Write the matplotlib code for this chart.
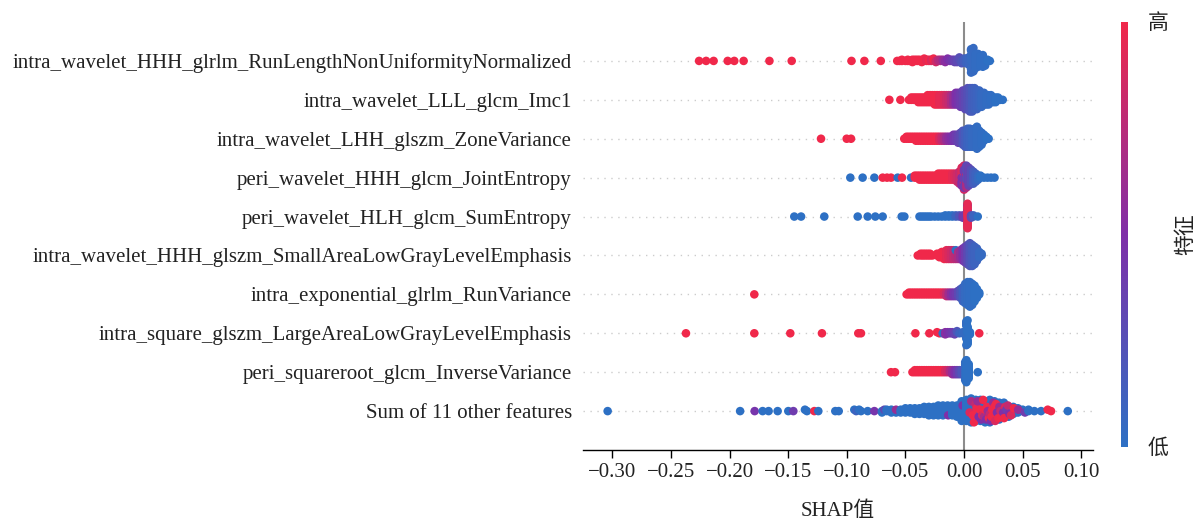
import numpy as np
import matplotlib
matplotlib.use('Agg')
import matplotlib.pyplot as plt
from matplotlib.colors import LinearSegmentedColormap, Normalize
from matplotlib.cm import ScalarMappable

plt.rcParams['font.family'] = ['Liberation Serif', 'Noto Sans CJK SC']
plt.rcParams['axes.unicode_minus'] = True

# feature names, top to bottom
feature_names = [
    'intra_wavelet_HHH_glrlm_RunLengthNonUniformityNormalized',
    'intra_wavelet_LLL_glcm_Imc1',
    'intra_wavelet_LHH_glszm_ZoneVariance',
    'peri_wavelet_HHH_glcm_JointEntropy',
    'peri_wavelet_HLH_glcm_SumEntropy',
    'intra_wavelet_HHH_glszm_SmallAreaLowGrayLevelEmphasis',
    'intra_exponential_glrlm_RunVariance',
    'intra_square_glszm_LargeAreaLowGrayLevelEmphasis',
    'peri_squareroot_glcm_InverseVariance',
    'Sum of 11 other features',
]

# each row: (SHAP value, feature value 0=low..1=high, number of samples)
row_rlnun = [
    (-0.226, 1, 1), (-0.220, 1, 1), (-0.2136, 1, 1), (-0.2016, 1, 1), (-0.196, 1, 1),
    (-0.188, 1, 1), (-0.166, 1, 1), (-0.147, 1, 1), (-0.096, 1, 1), (-0.085, 1, 1),
    (-0.071, 1, 1), (-0.057, 1, 1), (-0.055, 1, 1), (-0.053, 1, 2), (-0.050, 1, 1),
    (-0.048, 1, 2), (-0.046, 1, 1), (-0.044, 1, 2), (-0.042, 1, 2), (-0.040, 1, 2),
    (-0.038, 1, 2), (-0.036, 1, 2), (-0.034, 1, 2), (-0.032, 0.95, 2), (-0.030, 1, 2),
    (-0.028, 0.9, 2), (-0.026, 1, 2), (-0.024, 0.85, 2), (-0.022, 0.75, 2), (-0.020, 0.7, 2),
    (-0.018, 0.6, 2), (-0.016, 0.55, 2), (-0.014, 0.5, 2), (-0.012, 0.45, 2), (-0.010, 0.4, 2),
    (-0.008, 0.35, 3), (-0.006, 0.3, 3), (-0.004, 0.25, 3), (-0.002, 0.2, 3), (0.000, 0.15, 4),
    (0.002, 0.1, 5), (0.004, 0.08, 7), (0.006, 0.05, 10), (0.008, 0.05, 12), (0.010, 0.03, 13),
    (0.012, 0.03, 12), (0.014, 0.02, 9), (0.016, 0.02, 7), (0.018, 0.02, 4), (0.020, 0.0, 2),
    (0.022, 0.0, 1),
]
row_imc1 = [
    (-0.0637, 1, 1), (-0.0543, 1, 1), (-0.047, 1, 1), (-0.045, 1, 2), (-0.043, 1, 2),
    (-0.041, 1, 2), (-0.039, 1, 3), (-0.037, 1, 3), (-0.035, 1, 3), (-0.033, 1, 3),
    (-0.031, 1, 4), (-0.029, 1, 4), (-0.027, 1, 4), (-0.025, 1, 5), (-0.023, 1, 5),
    (-0.021, 0.95, 5), (-0.019, 0.95, 5), (-0.017, 0.9, 5), (-0.015, 0.85, 5), (-0.013, 0.8, 5),
    (-0.011, 0.7, 5), (-0.009, 0.6, 5), (-0.007, 0.5, 6), (-0.005, 0.45, 6), (-0.003, 0.4, 7),
    (-0.001, 0.35, 8), (0.001, 0.3, 9), (0.003, 0.25, 10), (0.005, 0.2, 11), (0.007, 0.15, 11),
    (0.009, 0.12, 10), (0.011, 0.1, 9), (0.013, 0.08, 8), (0.015, 0.05, 7), (0.017, 0.05, 6),
    (0.019, 0.03, 5), (0.021, 0.03, 5), (0.023, 0.02, 4), (0.025, 0.02, 3), (0.027, 0.0, 3),
    (0.029, 0.0, 2), (0.031, 0.0, 1), (0.033, 0.0, 1),
]
row_zonevar = [
    (-0.122, 1, 1), (-0.1001, 1, 1), (-0.0964, 1, 1), (-0.051, 1, 1), (-0.049, 1, 2),
    (-0.047, 1, 2), (-0.045, 1, 2), (-0.043, 1, 2), (-0.041, 1, 3), (-0.039, 1, 3),
    (-0.037, 1, 3), (-0.035, 1, 3), (-0.033, 1, 3), (-0.031, 1, 3), (-0.029, 1, 3),
    (-0.027, 1, 3), (-0.025, 1, 3), (-0.023, 1, 3), (-0.021, 0.9, 3), (-0.019, 0.8, 3),
    (-0.017, 0.7, 3), (-0.015, 0.6, 3), (-0.013, 0.55, 3), (-0.011, 0.5, 3), (-0.009, 0.45, 4),
    (-0.007, 0.4, 4), (-0.005, 0.35, 5), (-0.003, 0.3, 6), (-0.001, 0.2, 8), (0.001, 0.15, 9),
    (0.003, 0.1, 10), (0.005, 0.08, 10), (0.007, 0.05, 9), (0.009, 0.05, 10), (0.011, 0.03, 12),
    (0.013, 0.03, 9), (0.015, 0.02, 7), (0.017, 0.02, 4), (0.019, 0.0, 2), (0.021, 0.0, 1),
]
row_jointent = [
    (-0.097, 0, 1), (-0.0865, 0, 1), (-0.0765, 0, 1), (-0.0694, 1, 1), (-0.0657, 1, 1),
    (-0.0623, 1, 1), (-0.0566, 0, 1), (-0.0529, 1, 1), (-0.0452, 0, 1), (-0.042, 1, 2),
    (-0.040, 1, 2), (-0.038, 1, 3), (-0.036, 1, 3), (-0.034, 1, 3), (-0.032, 1, 3),
    (-0.030, 1, 3), (-0.028, 1, 3), (-0.026, 1, 3), (-0.024, 1, 3), (-0.022, 1, 4),
    (-0.020, 1, 4), (-0.018, 1, 4), (-0.016, 1, 4), (-0.014, 1, 4), (-0.012, 1, 4),
    (-0.010, 0.95, 4), (-0.008, 0.9, 4), (-0.006, 0.85, 5), (-0.004, 0.8, 7), (-0.002, 0.9, 6),
    (-0.002, 0.5, 4), (0.000, 0.85, 7), (0.000, 0.4, 6), (0.002, 0.7, 6), (0.002, 0.3, 6),
    (0.004, 0.35, 10), (0.006, 0.25, 8), (0.008, 0.15, 7), (0.010, 0.1, 5), (0.012, 0.05, 3),
    (0.014, 0.0, 2), (0.017, 0.0, 1), (0.020, 0.0, 1), (0.023, 0.0, 1), (0.026, 0.0, 1),
]
row_sument = [
    (-0.1448, 0, 1), (-0.139, 0, 1), (-0.1192, 0, 1), (-0.0907, 0, 1), (-0.0822, 0, 1),
    (-0.0757, 0, 1), (-0.0694, 0, 1), (-0.0532, 0, 1), (-0.0509, 0, 1), (-0.038, 0, 1),
    (-0.036, 0, 1), (-0.034, 0, 1), (-0.032, 0, 1), (-0.030, 0, 1), (-0.028, 0, 1),
    (-0.025, 0, 1), (-0.022, 0, 1), (-0.019, 0, 1), (-0.016, 0, 2), (-0.013, 0, 2),
    (-0.010, 0, 2), (-0.007, 0.1, 2), (-0.004, 0.2, 2), (-0.001, 0.4, 3), (0.003, 0.55, 8),
    (0.003, 0.95, 14), (0.006, 0.3, 3), (0.008, 0.1, 2), (0.0117, 0.0, 1),
]
row_salgle = [
    (-0.0395, 1, 1), (-0.037, 1, 2), (-0.035, 1, 2), (-0.033, 1, 2), (-0.031, 1, 2),
    (-0.029, 1, 2), (-0.027, 1, 1), (-0.023, 1, 2), (-0.021, 1, 3), (-0.019, 1, 4),
    (-0.017, 1, 5), (-0.015, 0.95, 6), (-0.013, 0.9, 6), (-0.011, 0.85, 6), (-0.009, 0.8, 6),
    (-0.007, 0.75, 5), (-0.007, 0.0, 1), (-0.005, 0.7, 5), (-0.003, 0.6, 6), (-0.001, 0.5, 8),
    (0.001, 0.4, 10), (0.003, 0.3, 12), (0.005, 0.2, 14), (0.007, 0.15, 13), (0.009, 0.1, 11),
    (0.011, 0.1, 8), (0.013, 0.05, 4), (0.015, 0.05, 2),
]
row_runvar = [
    (-0.1789, 1, 1), (-0.049, 1, 1), (-0.047, 1, 2), (-0.045, 1, 2), (-0.043, 1, 2),
    (-0.041, 1, 2), (-0.039, 1, 2), (-0.037, 1, 2), (-0.035, 1, 2), (-0.033, 1, 2),
    (-0.031, 1, 2), (-0.029, 1, 2), (-0.027, 1, 2), (-0.025, 1, 2), (-0.023, 1, 2),
    (-0.021, 1, 2), (-0.019, 1, 2), (-0.017, 0.9, 2), (-0.015, 0.8, 3), (-0.013, 0.65, 3),
    (-0.011, 0.55, 3), (-0.009, 0.45, 3), (-0.007, 0.4, 3), (-0.005, 0.3, 4), (-0.003, 0.2, 6),
    (-0.001, 0.1, 9), (0.001, 0.05, 12), (0.003, 0.03, 14), (0.005, 0.02, 15), (0.007, 0.02, 13),
    (0.009, 0.0, 10), (0.011, 0.0, 6), (0.013, 0.0, 2),
]
row_lalgle = [
    (-0.2372, 1, 1), (-0.1789, 1, 1), (-0.1482, 1, 1), (-0.1212, 1, 1), (-0.0902, 1, 1),
    (-0.0879, 1, 1), (-0.0415, 1, 1), (-0.0296, 1, 1), (-0.023, 1, 1), (-0.021, 1, 1),
    (-0.0182, 0, 1), (-0.016, 0.55, 2), (-0.014, 0.5, 2), (-0.012, 0.45, 2), (-0.010, 0.4, 2),
    (-0.008, 0.35, 2), (-0.006, 0.2, 2), (-0.004, 0.1, 1), (-0.001, 0.05, 2), (0.002, 0.03, 12),
    (0.003, 0.0, 12), (0.005, 0.0, 3), (0.013, 1, 1),
]
row_invvar = [
    (-0.0623, 1, 1), (-0.0589, 1, 1), (-0.044, 1, 1), (-0.042, 1, 2), (-0.040, 1, 2),
    (-0.038, 1, 2), (-0.036, 1, 2), (-0.034, 1, 2), (-0.032, 1, 2), (-0.030, 1, 2),
    (-0.028, 1, 2), (-0.026, 1, 2), (-0.024, 1, 2), (-0.022, 1, 2), (-0.020, 1, 2),
    (-0.018, 1, 2), (-0.016, 0.9, 2), (-0.014, 0.85, 2), (-0.012, 0.7, 2), (-0.010, 0.6, 3),
    (-0.008, 0.5, 3), (-0.006, 0.4, 3), (-0.004, 0.3, 3), (-0.002, 0.2, 3), (0.001, 0.05, 10),
    (0.002, 0.0, 12), (0.004, 0.0, 8), (0.0117, 0.0, 1),
]
row_other = [
    (-0.304, 0, 1), (-0.191, 0, 1), (-0.1786, 0.45, 1), (-0.1718, 0, 1), (-0.1667, 0, 1),
    (-0.159, 0, 1), (-0.1499, 0, 1), (-0.1456, 0.4, 1), (-0.1357, 0, 1), (-0.134, 0, 1),
    (-0.1277, 1, 1), (-0.1243, 0, 1), (-0.1098, 0, 1), (-0.1069, 0, 1), (-0.0936, 0, 1),
    (-0.092, 0.1, 1), (-0.0895, 0, 1), (-0.0879, 0, 1), (-0.0822, 0, 1), (-0.0765, 0.45, 1),
    (-0.070, 0, 2), (-0.068, 0.3, 1), (-0.066, 0, 2), (-0.062, 0, 3), (-0.058, 0, 2),
    (-0.058, 0.6, 1), (-0.054, 0, 3), (-0.050, 0, 4), (-0.046, 0, 4), (-0.042, 0, 5),
    (-0.038, 0, 5), (-0.034, 0, 6), (-0.030, 0, 7), (-0.026, 0, 7), (-0.022, 0, 8),
    (-0.018, 0, 8), (-0.014, 0, 7), (-0.0135, 0.5, 1), (-0.010, 0, 8), (-0.006, 0, 9),
    (-0.002, 0, 14), (-0.0012, 0.5, 1), (0.002, 0, 16), (0.006, 0, 15), (0.010, 0, 13),
    (0.014, 0, 12), (0.018, 0, 12), (0.022, 0, 12), (0.026, 0, 10), (0.030, 0, 9),
    (0.034, 0, 8), (0.038, 0, 6), (0.042, 0, 5), (0.046, 0, 3), (0.050, 0, 2),
    (0.0048, 0.9, 1), (0.0062, 0.7, 1), (0.0075, 1, 1),
    (0.0085, 1, 1), (0.0098, 0.8, 1), (0.0107, 1, 1), (0.0116, 0.6, 1),
    (0.0125, 0.5, 1), (0.0138, 1, 1), (0.0146, 0.5, 1), (0.0155, 0.9, 1),
    (0.0163, 1, 1), (0.0172, 0.7, 1), (0.0181, 1, 1), (0.0189, 0.5, 1), (0.0196, 1, 1),
    (0.0203, 0.6, 1), (0.0212, 1, 1), (0.0221, 0.8, 1), (0.0229, 0.5, 1), (0.0235, 1, 1),
    (0.0241, 1, 1), (0.0250, 0.6, 1), (0.0259, 1, 1), (0.0266, 0.9, 1), (0.0273, 1, 1),
    (0.0281, 0.5, 1), (0.0293, 1, 1), (0.0302, 0.6, 1), (0.0311, 0.8, 1),
    (0.0321, 1, 1), (0.0334, 0.5, 1), (0.0342, 1, 1), (0.0351, 0.9, 1),
    (0.0361, 0.4, 1), (0.0374, 0.8, 1), (0.0388, 0.5, 1),
    (0.0401, 0.9, 1), (0.0425, 1, 1), (0.0462, 0.6, 1),
    (0.052, 0.4, 1), (0.055, 0, 2), (0.060, 0, 1), (0.0657, 0, 1),
    (0.0714, 1, 1), (0.0742, 1, 1), (0.0885, 0, 1),
]

rows = [row_rlnun, row_imc1, row_zonevar, row_jointent, row_sument,
        row_salgle, row_runvar, row_lalgle, row_invvar, row_other]

x_ticks = [-0.30, -0.25, -0.20, -0.15, -0.10, -0.05, 0.00, 0.05, 0.10]

cmap = LinearSegmentedColormap.from_list('red_blue', ['#2d70c4', '#7f2fa8', '#f0284a'])


def beeswarm_offsets(shaps, row_height=0.4, nbins=100):
    # same stacking scheme as shap's beeswarm; a fixed scramble replaces its random tie-break
    quant = np.round(nbins * (shaps - shaps.min()) / (shaps.max() - shaps.min() + 1e-8))
    tie = (np.arange(len(shaps)) * 0.618034) % 1
    inds = np.lexsort((tie, quant))
    ys = np.zeros(len(shaps))
    layer, last_bin = 0, -1
    for ind in inds:
        if quant[ind] != last_bin:
            layer = 0
        ys[ind] = np.ceil(layer / 2) * ((layer % 2) * 2 - 1)
        layer += 1
        last_bin = quant[ind]
    ys *= 0.9 * (row_height / np.max(ys + 1))
    return ys


fig = plt.figure(figsize=(11.94, 5.24), dpi=100)
ax = fig.add_axes([0.4883, 0.1412, 0.4271, 0.8168])

n = len(rows)
ax.axvline(0, color='#8c8c8c', lw=1.5, zorder=1)
for i, row in enumerate(rows):
    pos = n - 1 - i
    vals = np.array([r[0] for r in row])
    feats = np.array([r[1] for r in row], dtype=float)
    counts = np.array([r[2] for r in row])
    shaps = np.repeat(vals, counts)
    colors = np.repeat(feats, counts)
    ys = beeswarm_offsets(shaps)
    ax.axhline(pos, color='#cccccc', lw=1, dashes=(1, 4), zorder=0)
    ax.scatter(shaps, pos + ys, c=colors, cmap=cmap, vmin=0, vmax=1,
               s=38, linewidths=0, zorder=3)

ax.set_ylim(-1, n)
ax.set_xlim(-0.325, 0.110)
ax.set_yticks(range(n))
ax.set_yticklabels(feature_names[::-1], fontsize=15, color='#222222')
ax.tick_params(axis='y', length=0, pad=8)
ax.set_xticks(x_ticks)
ax.tick_params(axis='x', labelsize=15, labelcolor='#222222', length=6, width=1)
ax.set_xlabel('SHAP值', fontsize=15, color='#222222', labelpad=14)
for side in ['top', 'right', 'left']:
    ax.spines[side].set_visible(False)
ax.spines['bottom'].set_linewidth(1)

# colour bar
cax = fig.add_axes([0.9389, 0.147, 0.0059, 0.811])
sm = ScalarMappable(norm=Normalize(0, 1), cmap=cmap)
cb = fig.colorbar(sm, cax=cax, ticks=[0, 1])
cb.set_ticklabels(['低', '高'])
cb.ax.tick_params(length=0, labelsize=15, pad=14, labelcolor='#222222')
cb.outline.set_visible(False)
cb.set_label('特征', size=15, labelpad=6, color='#222222')

fig.savefig('out.png', dpi=100)
